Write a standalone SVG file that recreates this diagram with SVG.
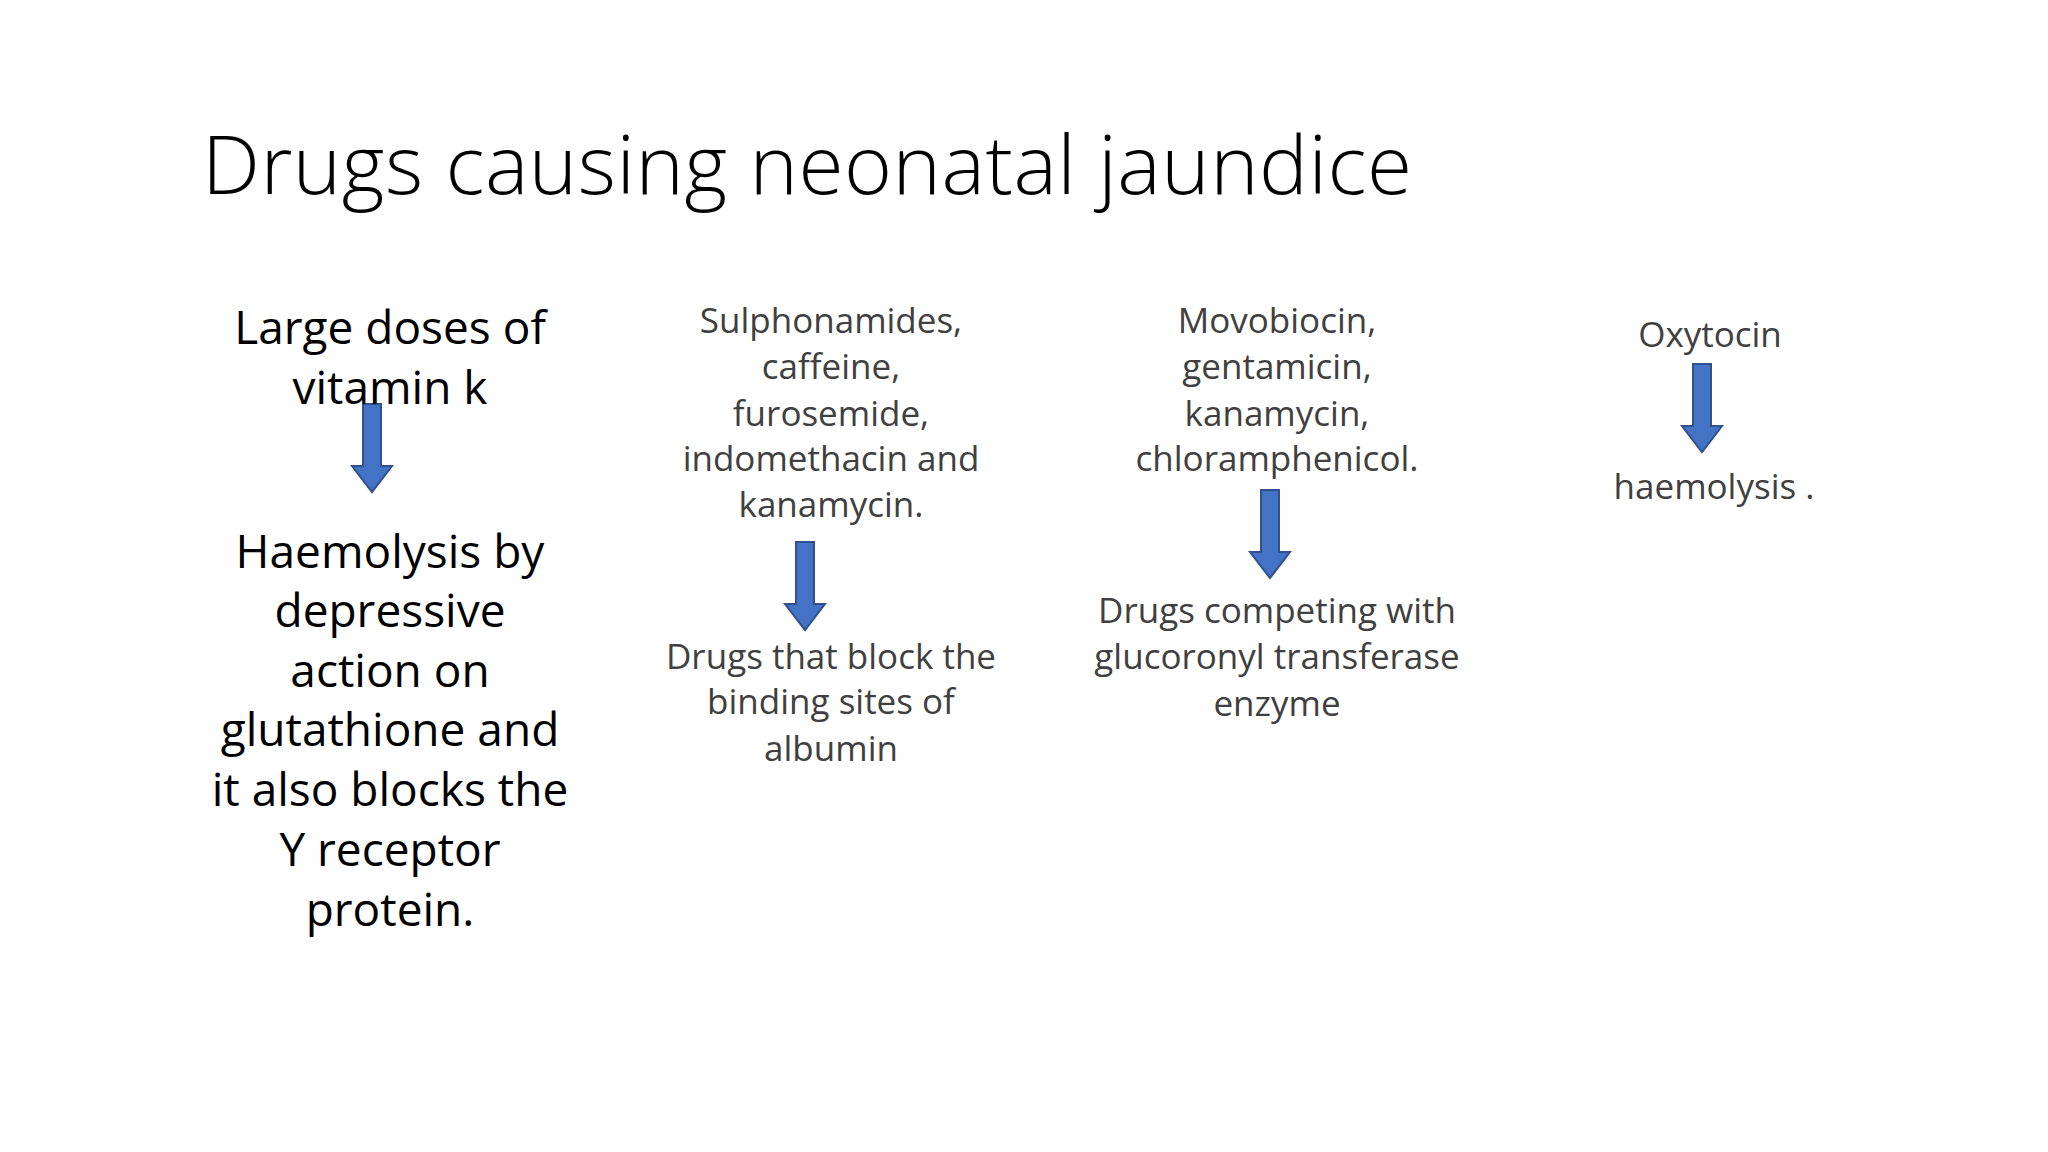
<svg xmlns="http://www.w3.org/2000/svg" width="2048" height="1152" viewBox="0 0 2048 1152">
<style>
.t{font-family:"Open Sans","Liberation Sans",sans-serif;text-anchor:middle}
.b{font-size:46px;fill:#000}
.g{font-size:35px;fill:#404040}
.a{fill:#4472C4;stroke:#2F528F;stroke-width:2}
</style>
<defs><path id="arr" d="M-9,0 H9 V62 H20 L0,88 L-20,62 H-9 Z" class="a"/></defs>
<rect width="2048" height="1152" fill="#fff"/>
<text x="202" y="194" font-family="Open Sans,Liberation Sans,sans-serif" font-weight="300" font-size="82" fill="#000" textLength="1210">Drugs causing neonatal jaundice</text>
<g id="connectors">
<use href="#arr" x="372" y="404"/>
<use href="#arr" x="805" y="542"/>
<use href="#arr" x="1270" y="490"/>
<use href="#arr" x="1702" y="364"/>
</g>
<g id="n1" class="t b">
<text x="390" y="344">Large doses of</text>
<text x="390" y="404">vitamin  k</text>
</g>
<g id="n2" class="t b">
<text x="390" y="568">Haemolysis by</text>
<text x="390" y="627">depressive</text>
<text x="390" y="687">action on</text>
<text x="390" y="746">glutathione and</text>
<text x="390" y="806">it also blocks the</text>
<text x="390" y="866">Y receptor</text>
<text x="390" y="926">protein.</text>
</g>
<g id="n3" class="t g">
<text x="831" y="333">Sulphonamides,</text>
<text x="831" y="379">caffeine,</text>
<text x="831" y="426">furosemide,</text>
<text x="831" y="471">indomethacin and</text>
<text x="831" y="517">kanamycin.</text>
</g>
<g id="n4" class="t g">
<text x="831" y="669">Drugs that block the</text>
<text x="831" y="714">binding sites of</text>
<text x="831" y="761">albumin</text>
</g>
<g id="n5" class="t g">
<text x="1277" y="333">Movobiocin,</text>
<text x="1277" y="379">gentamicin,</text>
<text x="1277" y="426">kanamycin,</text>
<text x="1277" y="471">chloramphenicol.</text>
</g>
<g id="n6" class="t g">
<text x="1277" y="623">Drugs competing with</text>
<text x="1277" y="669">glucoronyl transferase</text>
<text x="1277" y="716">enzyme</text>
</g>
<g id="n7" class="t g"><text x="1710" y="347">Oxytocin</text></g>
<g id="n8" class="t g"><text x="1714" y="499">haemolysis .</text></g>
</svg>
